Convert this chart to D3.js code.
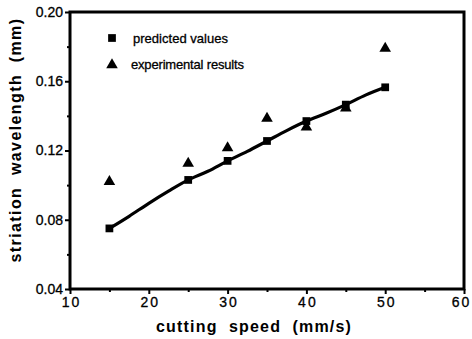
<!DOCTYPE html>
<html><head><meta charset="utf-8">
<script src="https://cdn.jsdelivr.net/npm/d3@7"></script>
<style>
body{margin:0;background:#fff;}
svg{display:block;}
text{font-family:Arial, "Liberation Sans", Helvetica, sans-serif;fill:#000;}
</style></head>
<body>
<svg id="chart" width="472" height="339"></svg>
<script>
// Data
const speeds = [15, 25, 30, 35, 40, 45, 50];
const predicted = [0.075, 0.103, 0.114, 0.1255, 0.137, 0.1465, 0.1565];
const experimental = [0.102, 0.1125, 0.1215, 0.1385, 0.1335, 0.1445, 0.179];
const curveX = [15, 17.5, 20, 22.5, 25, 27.5, 30, 32.5, 35, 37.5, 40, 42.5, 45, 47.5, 50];
const curveY = [0.075, 0.082, 0.0895, 0.0965, 0.103, 0.108, 0.114, 0.1195, 0.1255, 0.1315, 0.137, 0.1415, 0.1465, 0.152, 0.1565];
const xTicks = [10, 20, 30, 40, 50, 60];
const xMinor = [15, 25, 35, 45, 55];
const yTicks = [0.04, 0.08, 0.12, 0.16, 0.20];
const yMinor = [0.06, 0.10, 0.14, 0.18];
const legendLabels = ["predicted values", "experimental results"];
const xTitle = "cutting  speed  (mm/s)";
const yTitle = "striation  wavelength  (mm)";

const svg = d3.select("#chart");
const L = 70, R = 464, T = 12, B = 289;
const x = d3.scaleLinear().domain([10, 60]).range([L, R]);
const y = d3.scaleLinear().domain([0.04, 0.20]).range([B, T]);

// Frame
svg.append("rect").attr("x", L).attr("y", T).attr("width", R - L).attr("height", B - T)
  .attr("fill", "none").attr("stroke", "#000").attr("stroke-width", 3);

// Axes
const xAxis = d3.axisBottom(x).tickValues(xTicks).tickSize(5).tickPadding(3).tickFormat(d3.format("d"));
const gx = svg.append("g").attr("transform", `translate(0,${B})`).call(xAxis);
gx.select(".domain").remove();
gx.selectAll("line").attr("stroke-width", 2);
gx.selectAll("text").attr("font-size", 14).attr("letter-spacing", "2px")
  .attr("dx", (d, i) => i === xTicks.length - 1 ? "-3px" : "1px")
  .attr("stroke", "#000").attr("stroke-width", 0.3);
const gxm = svg.append("g").attr("transform", `translate(0,${B})`)
  .call(d3.axisBottom(x).tickValues(xMinor).tickSize(3).tickFormat(""));
gxm.select(".domain").remove();
gxm.selectAll("line").attr("stroke-width", 2);

const yAxis = d3.axisLeft(y).tickValues(yTicks).tickSize(5).tickPadding(2).tickFormat(d3.format(".2f"));
const gy = svg.append("g").attr("transform", `translate(${L},0)`).call(yAxis);
gy.select(".domain").remove();
gy.selectAll("line").attr("stroke-width", 2);
gy.selectAll("text").attr("font-size", 14).attr("stroke", "#000").attr("stroke-width", 0.3);
const gym = svg.append("g").attr("transform", `translate(${L},0)`)
  .call(d3.axisLeft(y).tickValues(yMinor).tickSize(3).tickFormat(""));
gym.select(".domain").remove();
gym.selectAll("line").attr("stroke-width", 2);

// Curve
const line = d3.line().x(d => x(d[0])).y(d => y(d[1])).curve(d3.curveMonotoneX);
svg.append("path").datum(curveX.map((v, i) => [v, curveY[i]]))
  .attr("d", line).attr("fill", "none").attr("stroke", "#000").attr("stroke-width", 3.2);

const sq = d3.symbol().type(d3.symbolSquare).size(60);
const tri = d3.symbol().type(d3.symbolTriangle).size(58);

svg.append("g").selectAll("path").data(speeds.map((s, i) => [s, predicted[i]])).join("path")
  .attr("d", sq).attr("transform", d => `translate(${x(d[0])},${y(d[1])})`).attr("fill", "#000");
svg.append("g").selectAll("path").data(speeds.map((s, i) => [s, experimental[i]])).join("path")
  .attr("d", tri).attr("transform", d => `translate(${x(d[0])},${y(d[1])})`).attr("fill", "#000");

// Legend
svg.append("path").attr("d", sq).attr("transform", "translate(112,38)").attr("fill", "#000");
svg.append("path").attr("d", tri).attr("transform", "translate(112,65)").attr("fill", "#000");
svg.append("text").attr("x", 133).attr("y", 43).attr("font-size", 13).attr("textLength", 95)
  .attr("stroke", "#000").attr("stroke-width", 0.3).text(legendLabels[0]);
svg.append("text").attr("x", 131).attr("y", 69).attr("font-size", 13).attr("textLength", 113)
  .attr("stroke", "#000").attr("stroke-width", 0.3).text(legendLabels[1]);

// Titles
svg.append("text").attr("x", 254).attr("y", 332).attr("text-anchor", "middle")
  .attr("font-size", 16).attr("font-weight", "bold").attr("letter-spacing", "1.2px")
  .style("white-space", "pre").text(xTitle);
svg.append("text").attr("transform", "translate(21,140) rotate(-90)").attr("text-anchor", "middle")
  .attr("font-size", 16).attr("font-weight", "bold").attr("letter-spacing", "1.4px")
  .style("white-space", "pre").text(yTitle);
</script>
</body></html>
